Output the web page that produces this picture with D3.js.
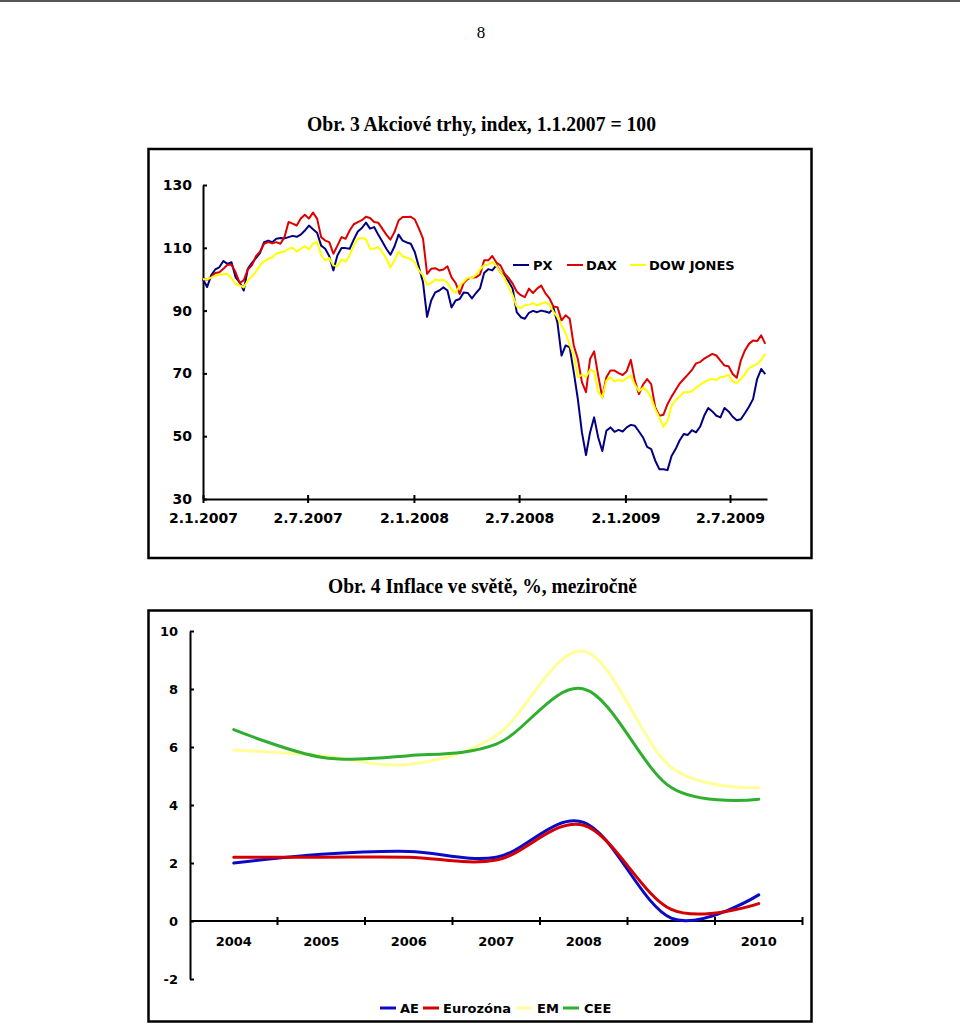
<!DOCTYPE html>
<html><head><meta charset="utf-8">
<script src="https://cdn.jsdelivr.net/npm/d3@7"></script>
<style>body{margin:0;background:#fff} svg{display:block}</style>
</head><body>
<svg id="c" width="960" height="1025"></svg>
<script>
// ---------- Obr. 3 data (index, 1.1.2007 = 100), evenly spaced observations ----------
const stockStart = "2007-01-02";
const stockEnd = "2009-09-01";
const stockNames = ["PX", "DAX", "DOW JONES"];
const px = [100,97.5,101.2,103.1,103.8,105.8,104.9,105.4,100.6,99,96.4,103.3,105.2,106.7,108.4,111.8,112.3,111.8,112.9,113.1,
113,113.4,113.8,113.5,114.2,115.5,117.1,115.9,114.8,110.7,109.7,107.3,102.8,107.6,109.9,109.9,109.7,112.6,115.2,116.3,
118,116.1,116.6,114.2,112,109.7,107.8,110.4,114.2,112.3,111.7,111.3,108.6,103.8,99,88,93.2,95.8,96.4,97.4,
96.4,91,93.2,93.7,95.8,95.6,93.9,95.6,97.1,102,103.2,102.8,104.4,102.3,101,99.3,97,89.5,87.9,87.4,
89.3,89.9,89.5,90,89.7,89.3,90.9,86.1,75.7,78.9,78.3,70.4,61.8,51.2,44,51.2,56,49.6,45.3,51.7,
52.8,51.4,52,51.5,52.8,53.6,53.3,51.5,49.6,46.6,45.9,42.2,39.5,39.5,39.2,43.7,45.9,48.7,50.7,50.4,
51.9,51.2,53,56.5,59,57.9,56.5,56,59,57.9,56.2,55.1,55.4,57.3,59.4,61.8,68.2,71.4,69.8];
const dax = [100,99.9,100.6,102,102.2,103.3,104.6,104.6,102.2,98.8,99.6,103.1,104.4,107.3,108.8,111.3,111.8,111.4,111.8,111.3,
113.4,118.2,117.7,117.1,119.3,120.5,119.3,121.2,119.3,113.4,112.3,111.8,108.1,110.7,113.4,112.9,115.5,117.5,118.2,118.8,
119.9,119.5,118.2,118,116.1,114.2,112.6,115,118.7,119.8,119.8,119.9,119,116.1,112.9,101.7,103.3,103.5,102.8,103.1,
104.1,100.6,98.8,95.3,98.8,100.1,100.5,100.6,101.5,106,106,107.4,105.3,104.4,101.8,100.4,98.6,96.1,94.9,94.3,
97,95.6,97,98,95.6,94,91.3,91.1,86.9,88.5,87.4,78.9,74.6,67.2,64,74.6,77,69.3,62.4,68.8,
70.9,70.9,70.1,69.5,70.7,74.3,67.7,63.4,66.4,68.2,66.6,59.2,56.5,56.8,60.2,62.6,64.7,66.8,68.2,69.6,
71.1,73.2,73.6,74.7,75.4,76.2,75.7,74.1,72.5,72.3,69.8,68.6,74.1,77.3,79.4,80.5,80.3,82.1,79.4];
const dow = [100,100,100.5,101.1,101.4,101.6,101.7,100.3,98.5,98,97.4,99.6,100.9,102.4,104.4,105.7,106.5,107,108.1,108.6,
108.8,109.7,110,108.8,109.7,110.5,109.5,111.3,112,107.6,106,106.7,104.4,104.1,106.3,105.6,107.6,110.7,112.9,113.1,
112.7,109.7,109.7,110.2,108.6,106.5,103.8,106,108.8,107.3,106.8,106.5,105.2,102.8,101.2,98.2,98.8,99.9,99.6,99.9,
98.8,96.7,95.6,98,99.2,100.5,100.3,101.4,103.1,104.5,104.7,105.5,104.2,102.3,100.4,97.5,94.9,91.3,90.8,91.7,
91.9,92.4,91.7,92.2,92.7,91.9,89.7,87.9,85.3,82.9,79.1,75.7,68.8,69.5,68.8,71.2,70.6,64,62.4,67.7,
68.8,67.4,68,67.5,68.6,69.3,66.4,64.3,65.4,64.5,62.2,58.6,56,53,54.9,59.7,61.5,62.6,64,64,
64.3,65.4,66.4,67.2,67.9,68.2,67.9,68.8,69,69.6,67.5,66.9,68.2,69.8,71.7,72.3,73,74.3,76.2];
const stockAxisStart = "2007-01-02";
const stockAxisEnd = "2009-09-04";
const stockTickDates = ["2007-01-02","2007-07-02","2008-01-02","2008-07-02","2009-01-02","2009-07-02"];
const stockTickLabels = ["2.1.2007","2.7.2007","2.1.2008","2.7.2008","2.1.2009","2.7.2009"];
const stockYTicks = [30,50,70,90,110,130];

// ---------- Obr. 4 data (inflation, %, y/y) ----------
const years = ["2004","2005","2006","2007","2008","2009","2010"];
const inflNames = ["AE","Eurozóna","EM","CEE"];
const ae = [2.0,2.3,2.4,2.2,3.4,0.1,0.9];
const eurozona = [2.2,2.2,2.2,2.1,3.3,0.4,0.6];
const em = [5.9,5.7,5.4,6.4,9.3,5.3,4.6];
const cee = [6.6,5.65,5.7,6.1,8.0,4.6,4.2];
const inflYTicks = [-2,0,2,4,6,8,10];

// ---------- drawing ----------
const svg = d3.select("#c");
const SANS = "DejaVu Sans, Verdana, sans-serif";
const SERIF = "Liberation Serif, Times New Roman, serif";

svg.append("line").attr("x1",0).attr("x2",960).attr("y1",1).attr("y2",1)
  .attr("stroke","#555").attr("stroke-width",2);
svg.append("text").attr("x",481).attr("y",38).attr("text-anchor","middle")
  .attr("font-family",SERIF).attr("font-size",17).text("8");
svg.append("text").attr("x",481.5).attr("y",131).attr("text-anchor","middle")
  .attr("font-family",SERIF).attr("font-weight","bold").attr("font-size",20)
  .attr("textLength",349).attr("lengthAdjust","spacingAndGlyphs")
  .text("Obr. 3 Akciové trhy, index, 1.1.2007 = 100");
svg.append("text").attr("x",482.5).attr("y",593).attr("text-anchor","middle")
  .attr("font-family",SERIF).attr("font-weight","bold").attr("font-size",20)
  .attr("textLength",309).attr("lengthAdjust","spacingAndGlyphs")
  .text("Obr. 4 Inflace ve světě, %, meziročně");

// boxes
svg.append("rect").attr("x",148.5).attr("y",149).attr("width",663).attr("height",409)
  .attr("fill","none").attr("stroke","#000").attr("stroke-width",2.5);
svg.append("rect").attr("x",148.5).attr("y",610.5).attr("width",663).attr("height",411)
  .attr("fill","none").attr("stroke","#000").attr("stroke-width",2.5);

// ----- top chart -----
const parse = d3.timeParse("%Y-%m-%d");
const xS = d3.scaleTime().domain([parse(stockAxisStart), parse(stockAxisEnd)]).range([203,767]);
const yS = d3.scaleLinear().domain([30,130]).range([499,185]);
const t0 = parse(stockStart), t1 = parse(stockEnd);
const stockDates = px.map((_, i) => new Date(+t0 + (t1 - t0) * i / (px.length - 1)));

const gT = svg.append("g");
const yAxT = gT.append("g").attr("transform","translate(203,0)")
  .call(d3.axisLeft(yS).tickValues(stockYTicks).tickSize(-4).tickSizeOuter(0).tickPadding(11));
const xAxT = gT.append("g").attr("transform","translate(0,499)")
  .call(d3.axisBottom(xS).tickValues(stockTickDates.map(parse)).tickSizeOuter(0)
    .tickFormat((d,i) => stockTickLabels[i]));
xAxT.selectAll(".tick line").attr("y1",-4).attr("y2",4);
xAxT.selectAll(".tick text").attr("y",19).attr("dy","0.35em");
[yAxT, xAxT].forEach(a => {
  a.select(".domain").attr("stroke","#000").attr("stroke-width",2);
  a.selectAll(".tick line").attr("stroke","#000").attr("stroke-width",2);
  a.selectAll(".tick text").attr("font-family",SANS).attr("font-weight","bold")
    .attr("font-size",14).attr("fill","#000");
});

const stockSeries = [px, dax, dow];
const stockColors = ["#000080","#dd0000","#ffff00"];
const lineT = d3.line().x((d,i) => xS(stockDates[i])).y(d => yS(d));
stockSeries.forEach((s, k) => {
  gT.append("path").datum(s).attr("d", lineT).attr("fill","none")
    .attr("stroke", stockColors[k]).attr("stroke-width",2).attr("stroke-linejoin","round");
});
// legend top
const legT = [{x:513, t:533},{x:567, t:586},{x:630, t:649}];
legT.forEach((p, k) => {
  gT.append("line").attr("x1",p.x).attr("x2",p.x+16).attr("y1",265).attr("y2",265)
    .attr("stroke",stockColors[k]).attr("stroke-width",2);
  gT.append("text").attr("x",p.t).attr("y",265).attr("dy","0.36em")
    .attr("font-family",SANS).attr("font-weight","bold").attr("font-size",13)
    .text(stockNames[k]);
});

// ----- bottom chart -----
const xB = d3.scaleBand().domain(years).range([190,802.5]);
const yB = d3.scaleLinear().domain([-2,10]).range([979,631]);
const gB = svg.append("g");
const yAxB = gB.append("g").attr("transform","translate(190,0)")
  .call(d3.axisLeft(yB).tickValues(inflYTicks).tickSize(-4).tickSizeOuter(0).tickPadding(12)
    .tickFormat(d3.format("d")));
yAxB.select(".domain").attr("stroke","#000").attr("stroke-width",2);
yAxB.selectAll(".tick line").attr("stroke","#000").attr("stroke-width",2);
yAxB.selectAll(".tick text").attr("font-family",SANS).attr("font-weight","bold")
  .attr("font-size",13).attr("fill","#000").text(d => d < 0 ? "-" + Math.abs(d) : d);

const y0 = yB(0);
gB.append("line").attr("x1",xB.range()[0]).attr("x2",xB.range()[1]).attr("y1",y0).attr("y2",y0)
  .attr("stroke","#000").attr("stroke-width",2);
const bounds = years.map(y => xB(y)).concat([xB.range()[1]]);
gB.selectAll("line.xt").data(bounds.slice(1)).enter().append("line").attr("class","xt")
  .attr("x1",d=>d).attr("x2",d=>d).attr("y1",y0-4).attr("y2",y0+4)
  .attr("stroke","#000").attr("stroke-width",2);
gB.selectAll("text.xl").data(years).enter().append("text").attr("class","xl")
  .attr("x",d => xB(d) + xB.bandwidth()/2).attr("y",y0+20).attr("dy","0.36em")
  .attr("text-anchor","middle").attr("font-family",SANS).attr("font-weight","bold")
  .attr("font-size",13).text(d => d);

const inflSeries = [ae, eurozona, em, cee];
const inflColors = ["#0a0ac8","#d40000","#ffff99","#2fae2f"];
const lineB = d3.line().x((d,i) => xB(years[i]) + xB.bandwidth()/2).y(d => yB(d))
  .curve(d3.curveCardinal.tension(0));
inflSeries.forEach((s, k) => {
  gB.append("path").datum(s).attr("d", lineB).attr("fill","none")
    .attr("stroke", inflColors[k]).attr("stroke-width",3).attr("stroke-linecap","round");
});
// legend bottom
const legB = [{x:380, t:400},{x:423, t:443},{x:516, t:537},{x:563, t:584}];
legB.forEach((p, k) => {
  gB.append("line").attr("x1",p.x).attr("x2",p.x+16).attr("y1",1008).attr("y2",1008)
    .attr("stroke",inflColors[k]).attr("stroke-width",3);
  gB.append("text").attr("x",p.t).attr("y",1008).attr("dy","0.36em")
    .attr("font-family",SANS).attr("font-weight","bold").attr("font-size",13)
    .text(inflNames[k]);
});
</script>
</body></html>
